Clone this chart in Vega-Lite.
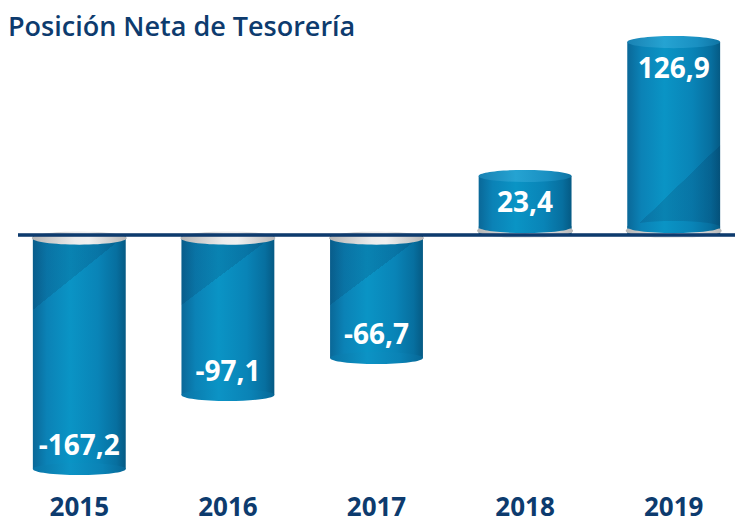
{
  "$schema": "https://vega.github.io/schema/vega-lite/v6.json",
  "autosize": {"type": "pad"},
  "padding": {"left": 8, "top": 14, "right": 0, "bottom": 0},
  "width": 717,
  "height": 439,
  "background": "#ffffff",
  "config": {"view": {"stroke": null}},
  "title": {
    "text": "Posición Neta de Tesorería",
    "anchor": "start",
    "frame": "group",
    "font": "Open Sans",
    "fontSize": 27,
    "fontWeight": 600,
    "color": "#0d3b6e",
    "baseline": "bottom",
    "offset": -33,
    "dx": -10
  },
  "data": {
    "values": [
      {"year": "2015", "value": -167.2, "label": "-167,2"},
      {"year": "2016", "value": -97.1, "label": "-97,1"},
      {"year": "2017", "value": -66.7, "label": "-66,7"},
      {"year": "2018", "value": 23.4, "label": "23,4"},
      {"year": "2019", "value": 126.9, "label": "126,9"}
    ]
  },
  "layer": [
    {
      "mark": {
        "type": "bar",
        "fill": {"gradient": "linear", "x1": 0, "y1": 0, "x2": 1, "y2": 0,
          "stops": [
            {"offset": 0, "color": "#0a6898"},
            {"offset": 0.15, "color": "#0b82b6"},
            {"offset": 0.4, "color": "#0a94c5"},
            {"offset": 0.7, "color": "#0984b7"},
            {"offset": 0.9, "color": "#076f9f"},
            {"offset": 1, "color": "#055a84"}
          ]}
      },
      "encoding": {
        "x": {
          "field": "year",
          "type": "nominal",
          "scale": {"type": "band", "paddingInner": 0.375, "paddingOuter": 0.1},
          "axis": {
            "title": null,
            "domain": false,
            "ticks": false,
            "labelAngle": 0,
            "labelFont": "Open Sans",
            "labelFontSize": 26,
            "labelFontWeight": "bold",
            "labelColor": "#0d3b6e",
            "labelPadding": 15
          }
        },
        "y": {
          "field": "value",
          "type": "quantitative",
          "scale": {"type": "pow", "exponent": 0.7, "domain": [-177.5, 128.9], "nice": false, "zero": false},
          "axis": null
        },
        "y2": {"datum": 0}
      }
    },
    {
      "transform": [{"filter": "datum.year == '2015'"}],
      "mark": {"type": "bar", "fill": {"gradient": "linear", "x1": 0, "y1": 0, "x2": 0.32, "y2": 1,
        "stops": [{"offset": 0, "color": "rgba(0,25,60,0.14)"}, {"offset": 0.29, "color": "rgba(0,25,60,0.14)"}, {"offset": 0.291, "color": "rgba(0,25,60,0)"}, {"offset": 1, "color": "rgba(0,25,60,0)"}]}},
      "encoding": {"x": {"field": "year", "type": "nominal"}, "y": {"field": "value", "type": "quantitative"}, "y2": {"datum": 0}}
    },
    {
      "transform": [{"filter": "datum.year == '2016'"}],
      "mark": {"type": "bar", "fill": {"gradient": "linear", "x1": 0, "y1": 0, "x2": 0.4375, "y2": 1,
        "stops": [{"offset": 0, "color": "rgba(0,25,60,0.14)"}, {"offset": 0.367, "color": "rgba(0,25,60,0.14)"}, {"offset": 0.368, "color": "rgba(0,25,60,0)"}, {"offset": 1, "color": "rgba(0,25,60,0)"}]}},
      "encoding": {"x": {"field": "year", "type": "nominal"}, "y": {"field": "value", "type": "quantitative"}, "y2": {"datum": 0}}
    },
    {
      "transform": [{"filter": "datum.year == '2017'"}],
      "mark": {"type": "bar", "fill": {"gradient": "linear", "x1": 0, "y1": 0, "x2": 0.569, "y2": 1,
        "stops": [{"offset": 0, "color": "rgba(0,25,60,0.14)"}, {"offset": 0.43, "color": "rgba(0,25,60,0.14)"}, {"offset": 0.431, "color": "rgba(0,25,60,0)"}, {"offset": 1, "color": "rgba(0,25,60,0)"}]}},
      "encoding": {"x": {"field": "year", "type": "nominal"}, "y": {"field": "value", "type": "quantitative"}, "y2": {"datum": 0}}
    },
    {
      "transform": [{"filter": "datum.year == '2019'"}],
      "mark": {"type": "bar", "fill": {"gradient": "linear", "x1": 0, "y1": 0, "x2": 0.466, "y2": 1,
        "stops": [{"offset": 0, "color": "rgba(0,25,60,0)"}, {"offset": 0.821, "color": "rgba(0,25,60,0)"}, {"offset": 0.822, "color": "rgba(0,25,60,0.14)"}, {"offset": 1, "color": "rgba(0,25,60,0.14)"}]}},
      "encoding": {"x": {"field": "year", "type": "nominal"}, "y": {"field": "value", "type": "quantitative"}, "y2": {"datum": 0}}
    },
    {
      "transform": [{"filter": "datum.value > 0"}],
      "mark": {
        "type": "point",
        "shape": "M-1,-0.09A1,0.15,0,1,0,1,-0.09A1,0.15,0,1,0,-1,-0.09Z",
        "size": 9216,
        "filled": true,
        "opacity": 1,
        "strokeWidth": 0,
        "fill": {"gradient": "linear", "x1": 0, "y1": 0, "x2": 1, "y2": 0,
          "stops": [
            {"offset": 0, "color": "#b5b5b5"},
            {"offset": 0.45, "color": "#ececec"},
            {"offset": 0.6, "color": "#f0f0f0"},
            {"offset": 1, "color": "#b8b8b8"}
          ]}
      },
      "encoding": {"x": {"field": "year", "type": "nominal"}, "y": {"datum": 0, "type": "quantitative"}}
    },
    {
      "transform": [{"filter": "datum.value > 0"}],
      "mark": {
        "type": "point",
        "shape": "M-1,-0.17A1,0.13,0,1,0,1,-0.17A1,0.13,0,1,0,-1,-0.17Z",
        "size": 8649,
        "filled": true,
        "opacity": 1,
        "strokeWidth": 0,
        "fill": {"gradient": "linear", "x1": 0, "y1": 0, "x2": 1, "y2": 0,
          "stops": [
            {"offset": 0, "color": "#0a6898"},
            {"offset": 0.15, "color": "#0b82b6"},
            {"offset": 0.4, "color": "#0a94c5"},
            {"offset": 0.7, "color": "#0984b7"},
            {"offset": 0.9, "color": "#076f9f"},
            {"offset": 1, "color": "#055a84"}
          ]}
      },
      "encoding": {"x": {"field": "year", "type": "nominal"}, "y": {"datum": 0, "type": "quantitative"}}
    },
    {
      "transform": [{"filter": "datum.value < 0"}],
      "mark": {
        "type": "point",
        "shape": "M-1,0.065A1,0.14,0,1,0,1,0.065A1,0.14,0,1,0,-1,0.065Z",
        "size": 9025,
        "filled": true,
        "opacity": 1,
        "strokeWidth": 0,
        "fill": {"gradient": "linear", "x1": 0, "y1": 0, "x2": 1, "y2": 0,
          "stops": [
            {"offset": 0, "color": "#b5b5b5"},
            {"offset": 0.45, "color": "#ececec"},
            {"offset": 0.6, "color": "#f0f0f0"},
            {"offset": 1, "color": "#b8b8b8"}
          ]}
      },
      "encoding": {"x": {"field": "year", "type": "nominal"}, "y": {"datum": 0, "type": "quantitative"}}
    },
    {
      "transform": [{"filter": "datum.value < 0"}],
      "mark": {
        "type": "point",
        "shape": "M-1,0A1,0.13,0,1,0,1,0A1,0.13,0,1,0,-1,0Z",
        "size": 8649,
        "filled": true,
        "opacity": 1,
        "strokeWidth": 0,
        "fill": {"gradient": "linear", "x1": 0, "y1": 0, "x2": 1, "y2": 0,
          "stops": [
            {"offset": 0, "color": "#0a74a6"},
            {"offset": 0.4, "color": "#0c93c5"},
            {"offset": 0.75, "color": "#0a82b5"},
            {"offset": 1, "color": "#076796"}
          ]}
      },
      "encoding": {"x": {"field": "year", "type": "nominal"}, "y": {"field": "value", "type": "quantitative"}}
    },
    {
      "transform": [{"filter": "datum.value > 0"}],
      "mark": {
        "type": "point",
        "shape": "M-1,0A1,0.13,0,1,0,1,0A1,0.13,0,1,0,-1,0Z",
        "size": 8649,
        "filled": true,
        "opacity": 1,
        "strokeWidth": 0,
        "fill": {"gradient": "linear", "x1": 0, "y1": 0, "x2": 1, "y2": 0,
          "stops": [
            {"offset": 0, "color": "#1a82b3"},
            {"offset": 0.4, "color": "#25a3d2"},
            {"offset": 0.75, "color": "#1a90c2"},
            {"offset": 1, "color": "#0f74a4"}
          ]}
      },
      "encoding": {"x": {"field": "year", "type": "nominal"}, "y": {"field": "value", "type": "quantitative"}}
    },
    {
      "transform": [{"filter": "datum.value < 0"}],
      "mark": {"type": "text", "font": "Open Sans", "fontSize": 28, "fontWeight": "bold", "color": "#ffffff", "baseline": "middle", "dy": -22},
      "encoding": {"x": {"field": "year", "type": "nominal"}, "y": {"field": "value", "type": "quantitative"}, "text": {"field": "label"}}
    },
    {
      "transform": [{"filter": "datum.value > 0"}],
      "mark": {"type": "text", "font": "Open Sans", "fontSize": 28, "fontWeight": "bold", "color": "#ffffff", "baseline": "middle", "dy": 28},
      "encoding": {"x": {"field": "year", "type": "nominal"}, "y": {"field": "value", "type": "quantitative"}, "text": {"field": "label"}}
    },
    {
      "mark": {"type": "rule", "color": "#0d3b6e", "strokeWidth": 2.5},
      "encoding": {"y": {"datum": 0, "type": "quantitative"}}
    }
  ]
}
